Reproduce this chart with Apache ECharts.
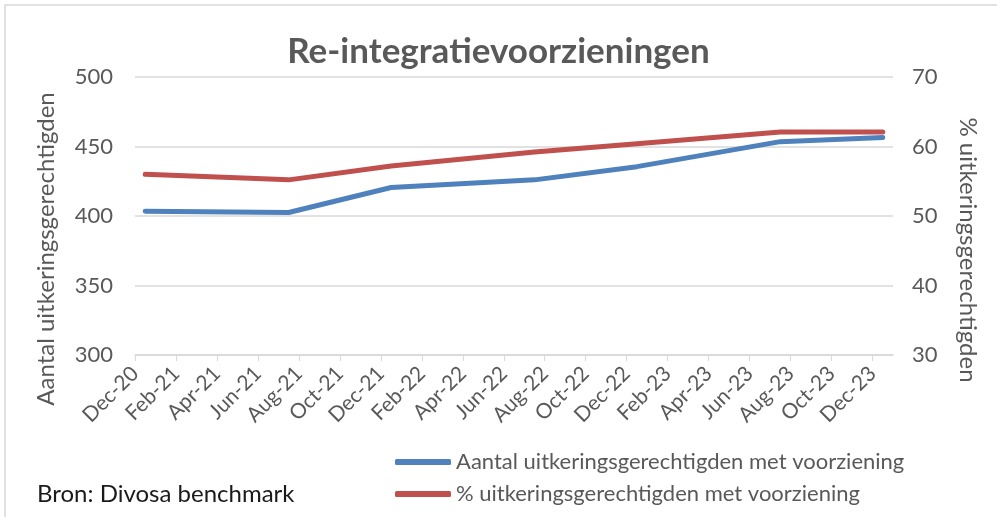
<!DOCTYPE html>
<html>
<head>
<meta charset="utf-8">
<script src="https://cdn.jsdelivr.net/npm/echarts@6/dist/echarts.min.js"></script>
<style>
  html, body { margin: 0; padding: 0; background: #fff; }
  #chart { width: 997px; height: 517px; }
</style>
</head>
<body>
<div id="chart"></div>
<script>
// meetmomenten (jaar-maand)
var dates = ['2020-12', '2021-07', '2021-12', '2022-07', '2022-12', '2023-07', '2023-12'];
// aantal uitkeringsgerechtigden met voorziening (linker as)
var aantal = [403.5, 402.5, 420.5, 426, 435.5, 453.5, 456.5];
// % uitkeringsgerechtigden met voorziening (rechter as)
var procent = [56.0, 55.2, 57.2, 59.2, 60.4, 62.1, 62.1];
// labels van de x-as, om de twee maanden
var tickLabels = ['Dec-20', 'Feb-21', 'Apr-21', 'Jun-21', 'Aug-21', 'Oct-21', 'Dec-21',
  'Feb-22', 'Apr-22', 'Jun-22', 'Aug-22', 'Oct-22', 'Dec-22', 'Feb-23', 'Apr-23',
  'Jun-23', 'Aug-23', 'Oct-23', 'Dec-23'];

// maandindex t.o.v. dec 2020, punt in het midden van de maand
function monthIndex(d) {
  var p = d.split('-');
  return (parseInt(p[0], 10) - 2020) * 12 + parseInt(p[1], 10) - 12 + 0.5;
}

var txt = '#595959';
var font = 'Lato';

var myChart = echarts.init(document.getElementById('chart'));
var option = {
  textStyle: { fontFamily: font },
  title: {
    text: 'Re-integratievoorzieningen',
    left: 'center',
    top: 29,
    textStyle: { fontSize: 35, fontWeight: 'bold', color: txt, fontFamily: font }
  },
  legend: {
    orient: 'vertical',
    left: 390,
    top: 446,
    itemWidth: 56,
    itemHeight: 6,
    itemGap: 10,
    icon: 'roundRect',
    textStyle: { fontSize: 22, color: txt, fontFamily: font },
    data: ['Aantal uitkeringsgerechtigden met voorziening', '% uitkeringsgerechtigden met voorziening']
  },
  grid: { left: 135, right: 104, top: 77, bottom: 162 },
  xAxis: {
    type: 'value',
    min: 0,
    max: 37,
    interval: 2,
    splitLine: { show: false },
    axisLine: { lineStyle: { color: '#d9d9d9', width: 1.5 } },
    axisTick: { show: true, length: 6, lineStyle: { color: '#d9d9d9' } },
    axisLabel: {
      rotate: 45,
      fontSize: 21,
      color: txt,
      margin: 15,
      showMaxLabel: false,
      formatter: function (v) {
        return v % 2 === 0 && tickLabels[v / 2] ? tickLabels[v / 2] : '';
      }
    }
  },
  yAxis: [{
    type: 'value',
    min: 300,
    max: 500,
    interval: 50,
    axisLine: { show: false },
    axisTick: { show: false },
    splitLine: { lineStyle: { color: '#d9d9d9', width: 1.5 } },
    axisLabel: { fontSize: 22, color: txt, margin: 22 }
  }, {
    type: 'value',
    min: 30,
    max: 70,
    interval: 10,
    axisLine: { show: false },
    axisTick: { show: false },
    splitLine: { show: false },
    axisLabel: { fontSize: 22, color: txt, margin: 19 }
  }],
  graphic: [
    { type: 'rect', shape: { x: 5, y: 5, width: 1010, height: 530 },
      style: { fill: 'none', stroke: '#d9d9d9', lineWidth: 1.5 }, silent: true },
    { type: 'text', x: 46, y: 249, rotation: Math.PI / 2,
      style: { text: 'Aantal uitkeringsgerechtigden', fontSize: 24, fill: txt, fontFamily: font,
        textAlign: 'center', textVerticalAlign: 'middle' } },
    { type: 'text', x: 968, y: 250, rotation: -Math.PI / 2,
      style: { text: '% uitkeringsgerechtigden', fontSize: 24, fill: txt, fontFamily: font,
        textAlign: 'center', textVerticalAlign: 'middle' } },
    { type: 'text', x: 37, y: 494,
      style: { text: 'Bron: Divosa benchmark', fontSize: 24, fill: '#1a1a1a', fontFamily: font,
        textAlign: 'left', textVerticalAlign: 'middle' } }
  ],
  series: [{
    name: 'Aantal uitkeringsgerechtigden met voorziening',
    type: 'line',
    yAxisIndex: 0,
    symbol: 'none',
    color: '#4F81BD',
    lineStyle: { width: 5, cap: 'round', join: 'round' },
    data: dates.map(function (d, i) { return [monthIndex(d), aantal[i]]; })
  }, {
    name: '% uitkeringsgerechtigden met voorziening',
    type: 'line',
    yAxisIndex: 1,
    symbol: 'none',
    color: '#C0504D',
    lineStyle: { width: 5, cap: 'round', join: 'round' },
    data: dates.map(function (d, i) { return [monthIndex(d), procent[i]]; })
  }]
};
myChart.setOption(option);
</script>
</body>
</html>
